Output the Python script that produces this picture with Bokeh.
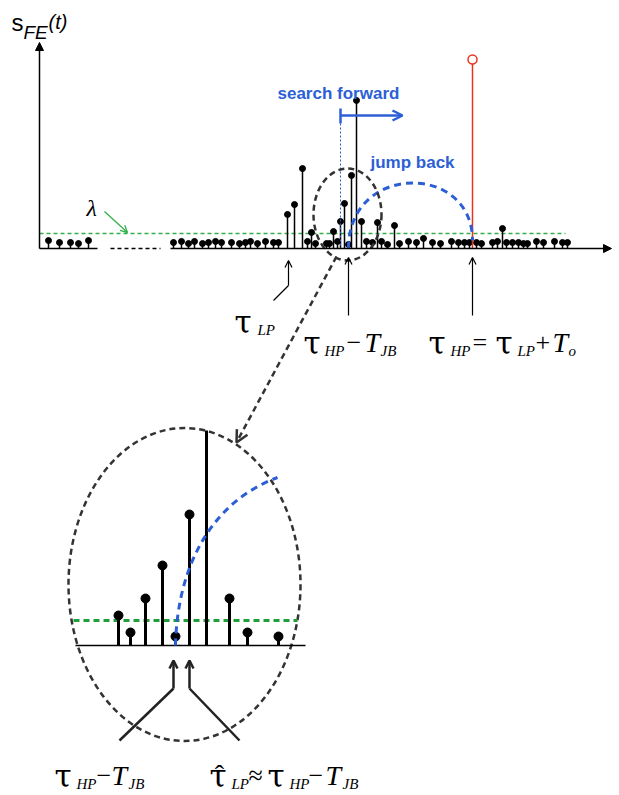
from bokeh.plotting import figure
from bokeh.models import Range1d, Arrow, OpenHead, NormalHead
from bokeh.core.properties import value
from bokeh.embed import file_html
from bokeh.resources import INLINE

# ---------------- data ----------------
LAMBDA = 1.0  # detection threshold (amplitude units)

# top panel: sample times and feature amplitudes S_FE(t)
seg1_t = [48, 59, 70, 78, 88]
seg1_s = [0.53, 0.40, 0.40, 0.33, 0.53]

main_t = [173, 181, 188, 194, 202, 208, 215, 221, 231, 239, 245, 250, 257, 265,
          273, 278, 287, 294, 302, 307, 311, 315, 326, 329, 333, 337, 340, 344,
          348, 351, 356, 361, 366, 372, 377, 381, 387, 394, 399, 408, 416, 423,
          432, 440, 451, 458, 464, 469, 476, 481, 492, 497, 502, 506, 512, 518,
          523, 527, 536, 543, 554, 562, 567]
main_s = [0.40, 0.47, 0.33, 0.47, 0.33, 0.40, 0.47, 0.40, 0.40, 0.33, 0.40, 0.47, 0.33, 0.47,
          0.40, 0.40, 2.27, 2.93, 5.33, 0.47, 1.07, 0.33, 0.33, 0.33, 1.13, 0.47, 1.80, 3.00,
          0.27, 4.87, 9.87, 1.80, 0.47, 0.40, 1.73, 0.47, 0.27, 1.53, 0.33, 0.47, 0.40, 0.67,
          0.40, 0.33, 0.47, 0.40, 0.40, 0.40, 0.40, 0.33, 0.40, 0.47, 1.33, 0.40, 0.40, 0.40,
          0.33, 0.33, 0.47, 0.40, 0.47, 0.40, 0.40]

hp_t = [472]      # high-peak detection (red)
hp_s = [12.6]

# zoomed panel
zoom_t = [118, 130, 145, 162, 175, 189, 206, 229, 247, 278]
zoom_s = [1.20, 0.52, 1.88, 3.20, 0.36, 5.24, 8.60, 1.88, 0.52, 0.36]

# ---------------- layout constants ----------------
W, H = 619, 795
BASE_TOP, PX_TOP = 248, 15.0     # pixel row of top baseline, px per amplitude unit
BASE_ZOOM, PX_ZOOM = 645, 25.0

BLUE = "#2c5fd6"
GREEN = "#33b04a"
DARK = "#333333"
RED = "#e8341f"
SERIF = "Liberation Serif"
GREEK = "DejaVu Serif"
SANS = "Liberation Sans"

p = figure(width=W, height=H, output_backend="svg", toolbar_location=None,
           x_range=Range1d(0, W), y_range=Range1d(H, 0),
           x_axis_type=None, y_axis_type=None, min_border=0)
p.outline_line_color = None
p.background_fill_color = "white"
p.border_fill_color = "white"
p.extra_y_ranges = {
    "amp": Range1d((BASE_TOP - H) / PX_TOP, BASE_TOP / PX_TOP),
    "zamp": Range1d((BASE_ZOOM - H) / PX_ZOOM, BASE_ZOOM / PX_ZOOM),
}


def put(x, y, s, size, style="normal", font=SERIF, color="black", align="left"):
    p.text(x=[x], y=[y], text=[s], text_font=value(font), text_font_size=size,
           text_font_style=style, text_color=color, text_align=align,
           text_baseline="alphabetic")


def tau(x, y):
    put(x, y, "τ", "31px", "normal", GREEK)


# ---------------- top panel axes ----------------
p.add_layout(Arrow(end=NormalHead(size=8, fill_color="black", line_color="black"),
                   x_start=39, y_start=BASE_TOP, x_end=39, y_end=42,
                   line_width=1.5, line_color="black"))
p.segment(x0=39, y0=0, x1=97, y1=0, y_range_name="amp", line_color="black", line_width=1.5)
p.segment(x0=110, y0=0, x1=160, y1=0, y_range_name="amp", line_color="black",
          line_width=1.5, line_dash="4 3")
p.add_layout(Arrow(end=NormalHead(size=8, fill_color="black", line_color="black"),
                   x_start=170, y_start=BASE_TOP, x_end=611, y_end=BASE_TOP,
                   line_width=1.5, line_color="black"))

# threshold
p.segment(x0=39, y0=LAMBDA, x1=565, y1=LAMBDA, y_range_name="amp",
          line_color=GREEN, line_width=1.4, line_dash="4 3")

# stems
for tt, ss in ((seg1_t, seg1_s), (main_t, main_s)):
    p.segment(x0=tt, y0=[0] * len(tt), x1=tt, y1=ss, y_range_name="amp",
              line_color="black", line_width=1.5)
    p.scatter(x=tt, y=ss, y_range_name="amp", marker="circle", size=6,
              fill_color="black", line_color="black")

p.segment(x0=hp_t, y0=[0], x1=hp_t, y1=hp_s, y_range_name="amp",
          line_color=RED, line_width=1.5)
p.scatter(x=hp_t, y=hp_s, y_range_name="amp", marker="circle", size=9,
          fill_color="white", line_color=RED, line_width=1.5)

# search forward
p.segment(x0=340, y0=108, x1=340, y1=123, line_color=BLUE, line_width=2.5)
p.add_layout(Arrow(end=OpenHead(size=10, line_color=BLUE, line_width=2.5),
                   x_start=340, y_start=115, x_end=402, y_end=115,
                   line_color=BLUE, line_width=2.5))
p.segment(x0=340, y0=123, x1=340, y1=BASE_TOP, line_color=BLUE, line_width=1,
          line_dash="2 2")
put(277, 93, "search forward", "17px", "bold", SANS, BLUE)
put(370, 162, "jump back", "17px", "bold", SANS, BLUE)

# jump back arc
p.bezier(x0=[348], y0=[248], x1=[472], y1=[240], cx0=[348], cy0=[162],
         cx1=[472], cy1=[162], line_color=BLUE, line_width=3, line_dash="7 5")

# small dashed ellipse + connector
p.ellipse(x=[347], y=[214], width=[68], height=[92], fill_color=None,
          line_color=DARK, line_width=2.5, line_dash="6 4")
p.add_layout(Arrow(end=OpenHead(size=12, line_color=DARK, line_width=2.5),
                   x_start=336, y_start=256, x_end=236, y_end=442,
                   line_color=DARK, line_width=2.5, line_dash="6 4"))

# lambda label
put(86, 207, "λ", "24px", "italic", SERIF)
p.add_layout(Arrow(end=OpenHead(size=7, line_color=GREEN, line_width=1.3),
                   x_start=104, y_start=211, x_end=127, y_end=232,
                   line_color=GREEN, line_width=1.3))

# y label s_FE(t)
put(11, 22, "s", "24px", "normal", SANS)
put(23, 32, "FE", "19px", "italic", SANS)
put(48, 21, "(t)", "20px", "italic", SANS)

# time arrows
for xa, y0, y1 in ((288, 285, 260), (348, 315, 257), (472, 315, 257)):
    p.add_layout(Arrow(end=OpenHead(size=7, line_color="black", line_width=1.2),
                       x_start=xa, y_start=y0, x_end=xa, y_end=y1,
                       line_color="black", line_width=1.2))
p.segment(x0=288, y0=285, x1=273, y1=300, line_color="black", line_width=1.2)

# tau_LP
tau(234, 321)
put(257, 329, "LP", "15px", "italic")
# tau_HP - T_JB
tau(303, 342)
put(324, 350, "HP", "15px", "italic")
put(346, 342, "−", "26px")
put(364, 342, "T", "28px", "italic")
put(380, 350, "JB", "15px", "italic")
# tau_HP = tau_LP + T_o
tau(428, 342)
put(450, 350, "HP", "15px", "italic")
put(472, 342, "=", "26px")
tau(495, 342)
put(517, 350, "LP", "15px", "italic")
put(535, 342, "+", "26px")
put(552, 342, "T", "28px", "italic")
put(568, 350, "o", "15px", "italic")

# ---------------- zoomed panel ----------------
p.ellipse(x=[184], y=[584], width=[232], height=[313], fill_color=None,
          line_color=DARK, line_width=2.5, line_dash="6 4")
p.segment(x0=75, y0=0, x1=305, y1=0, y_range_name="zamp", line_color="black", line_width=1.5)
p.segment(x0=73, y0=LAMBDA, x1=297, y1=LAMBDA, y_range_name="zamp",
          line_color="#1f9e3c", line_width=3, line_dash="6 4")
p.segment(x0=zoom_t, y0=[0] * len(zoom_t), x1=zoom_t, y1=zoom_s, y_range_name="zamp",
          line_color="black", line_width=3)
zmax = max(zoom_s)
zt_m = [t for t, s in zip(zoom_t, zoom_s) if s < zmax]
zs_m = [s for s in zoom_s if s < zmax]
p.scatter(x=zt_m, y=zs_m, y_range_name="zamp", marker="circle", size=9,
          fill_color="black", line_color="black")
p.bezier(x0=[175], y0=[645], x1=[277], y1=[477], cx0=[177], cy0=[560],
         cx1=[215], cy1=[500], line_color=BLUE, line_width=3, line_dash="7 5")

for xa, xb in ((173, 119), (189, 239)):
    p.add_layout(Arrow(end=OpenHead(size=8, line_color="#222222", line_width=2.5),
                       x_start=xa, y_start=688, x_end=xa, y_end=660,
                       line_color="#222222", line_width=2.5))
    p.segment(x0=xa, y0=688, x1=xb, y1=740, line_color="#222222", line_width=2.5)

# bottom labels
BY, SY = 775, 783
tau(54, BY)
put(76, SY, "HP", "15px", "italic")
put(96, BY, "−", "26px")
put(111, BY, "T", "28px", "italic")
put(128, SY, "JB", "15px", "italic")

tau(209, BY)
put(219, BY - 1, "ˆ", "28px", align="center")
put(231, SY, "LP", "15px", "italic")
put(248, BY, "≈", "26px")
tau(267, BY)
put(289, SY, "HP", "15px", "italic")
put(308, BY, "−", "26px")
put(325, BY, "T", "28px", "italic")
put(342, SY, "JB", "15px", "italic")

open("out.html", "w").write(file_html(p, INLINE))
